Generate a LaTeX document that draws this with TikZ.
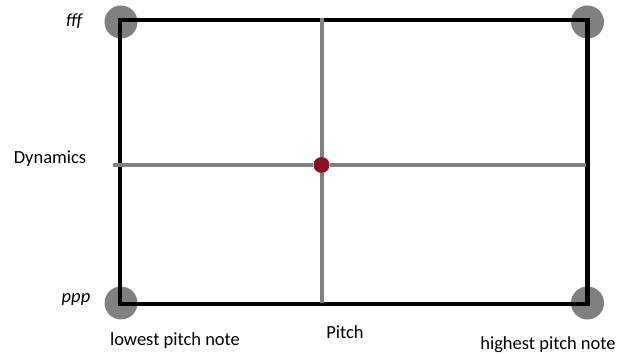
\documentclass[tikz,border=0pt]{standalone}
\usepackage{fontspec}
\setmainfont{Carlito}
\definecolor{dotgray}{HTML}{808080}
\definecolor{crossgray}{HTML}{808080}
\definecolor{centrered}{HTML}{8B1023}

\begin{document}
\begin{tikzpicture}[
    x=1pt, y=-1pt,
    font=\fontsize{18.5}{20}\selectfont,
    every node/.style={inner sep=0pt},
    cornerdot/.style={circle, fill=dotgray, minimum size=33pt},
    frameline/.style={line width=4.6pt, line join=miter},
    crossline/.style={line width=4pt, draw=crossgray},
]
% ---- picture frame ----
\useasboundingbox (0,0) rectangle (619,355);

% ---- column / row coordinates ----
\def\xL{120}      % left edge: lowest pitch
\def\xR{587.5}    % right edge: highest pitch
\def\xM{321.5}    % pitch axis
\def\yT{20}       % top edge: fff
\def\yB{304}      % bottom edge: ppp
\def\yM{165}      % dynamics axis

% ---- corner dots ----
\node[cornerdot] (tl) at (\xL+1,\yT+2) {};
\node[cornerdot] (tr) at (\xR,\yT+2) {};
\node[cornerdot] (bl) at (\xL+1,\yB-1) {};
\node[cornerdot] (br) at (\xR,\yB-1) {};

% ---- frame ----
\coordinate (nw) at (\xL,\yT);
\coordinate (se) at (\xR,\yB);
\draw[frameline] (nw) rectangle (se);

% ---- centre dot ----
\node[circle, fill=centrered, minimum size=16pt] (mid) at (\xM,\yM) {};

% ---- cross ----
\coordinate (ptop) at (\xM,\yT-1.5);
\coordinate (pbot) at (\xM,\yB-1);
\coordinate (dleft) at (\xL-7,\yM);
\coordinate (dright) at (\xR-2,\yM);
\draw[crossline] (ptop) -- (mid) -- (pbot);
\draw[crossline] (dleft) -- (mid) -- (dright);

% ---- labels ----
\node[anchor=base] (fff) at (74,27) {\itshape fff};
\node[anchor=base] (ppp) at (76,303) {\itshape ppp};
\node[anchor=base] (dyn) at (50,164) {Dynamics};
\node[anchor=base] (low) at (175,346) {lowest pitch note};
\node[anchor=base] (pitch) at (345,339) {Pitch};
\node[anchor=base] (high) at (548,350) {highest pitch note};

\end{tikzpicture}
\end{document}
